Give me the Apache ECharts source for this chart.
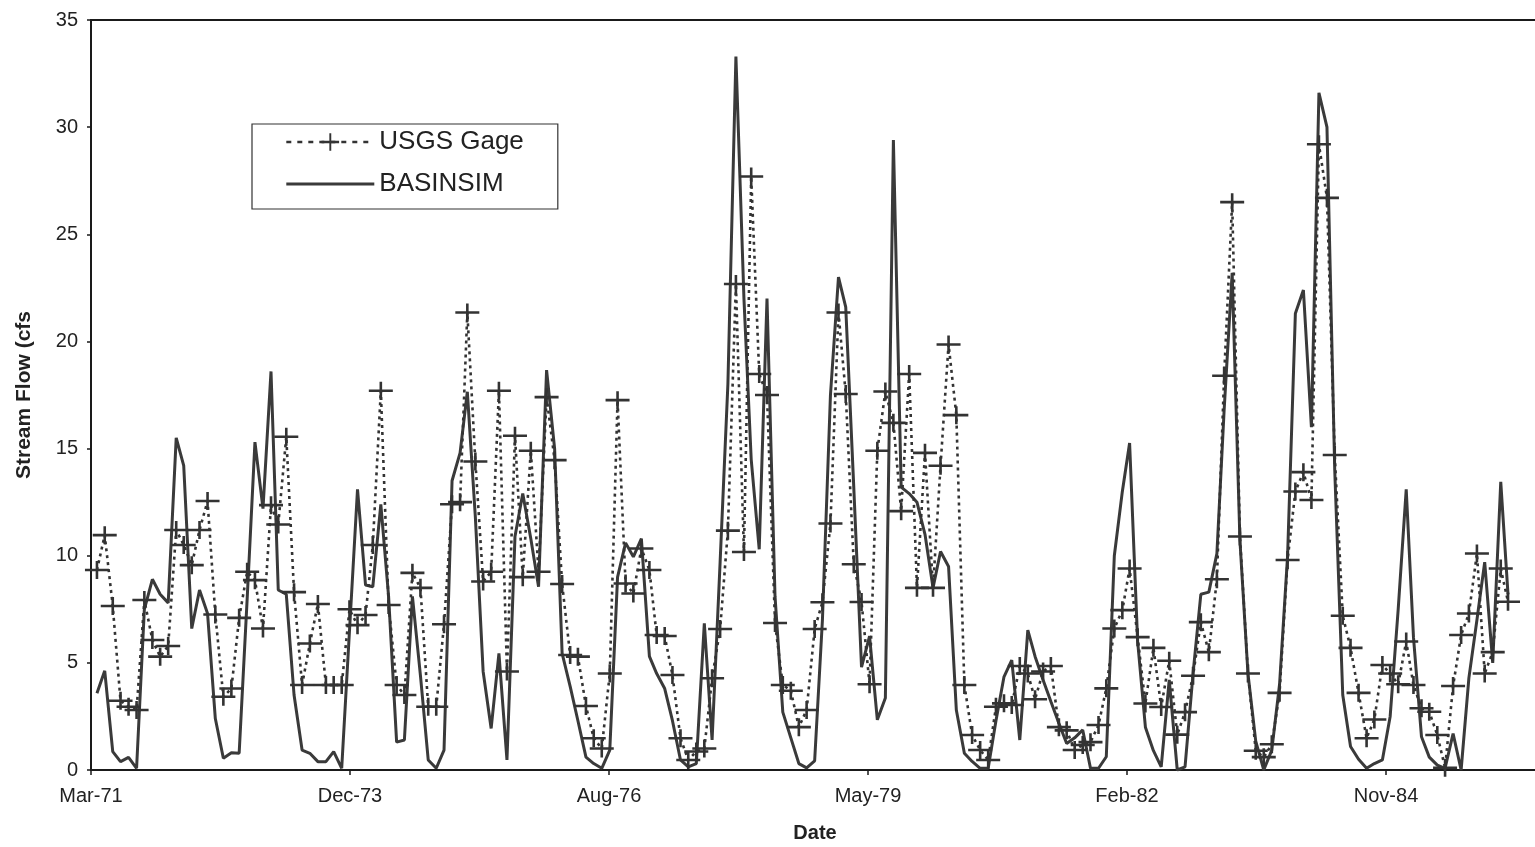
<!DOCTYPE html>
<html><head><meta charset="utf-8">
<script src="https://cdn.jsdelivr.net/npm/echarts@6/dist/echarts.min.js"></script>
<style>html,body{margin:0;padding:0;background:#fff}#c{width:1535px;height:847px}</style>
</head><body><div id="c"></div>
<script>
// Monthly stream flow (cfs), month-end values starting March 1971
const startYear = 1971;
const startMonth = 3;
const tickLabels = ['Mar-71', 'Dec-73', 'Aug-76', 'May-79', 'Feb-82', 'Nov-84'];
const axisStartSerial = 26000;   // Excel-style day serial of the first tick
const tickIntervalDays = 1000;
const axisEndSerial = 31637;

const usgsGage = [
  9.33, 10.96, 7.65, 3.23, 2.95, 2.8, 7.93, 6.07, 5.29, 5.79,
  11.2, 10.5, 9.56, 11.2, 12.55, 7.26, 3.42, 3.8, 7.1, 9.25,
  8.86, 6.6, 12.36, 11.46, 15.55, 8.3, 3.97, 5.9, 7.75, 3.97,
  3.97, 3.97, 7.5, 6.76, 7.23, 10.5, 17.7, 7.7, 3.97, 3.5,
  9.2, 8.5, 2.95, 2.95, 6.8, 12.4, 12.5, 21.35, 14.4, 8.8,
  9.25, 17.7, 4.6, 15.6, 9.0, 14.9, 9.25, 17.4, 14.46, 8.68,
  5.37, 5.29, 2.99, 1.48, 1.0, 4.5, 17.26, 8.7, 8.24, 10.34,
  9.33, 6.3, 6.25, 4.43, 1.48, 0.47, 0.86, 1.0, 4.28, 6.58,
  11.17, 22.68, 10.17, 27.7, 18.48, 17.5, 6.86, 3.97, 3.7, 2.0,
  2.8, 6.58, 7.83, 11.5, 21.35, 17.55, 9.6, 7.84, 4.0, 14.9,
  17.66, 16.2, 12.08, 18.48, 8.5, 14.8, 8.5, 14.2, 19.86, 16.56,
  3.97, 1.63, 0.93, 0.47, 2.95, 3.11, 3.03, 4.85, 4.5, 3.3,
  4.6, 4.85, 2.0, 1.85, 0.93, 1.17, 1.3, 2.1, 3.81, 6.6,
  7.46, 9.4, 6.2, 3.1, 5.7, 2.94, 5.1, 1.65, 2.7, 4.4,
  6.9, 5.5, 8.9, 18.4, 26.5, 10.9, 4.5, 0.9, 0.6, 1.2,
  3.6, 9.8, 13.0, 13.9, 12.6, 29.2, 26.7, 14.7, 7.2, 5.7,
  3.6, 1.48, 2.36, 4.9, 4.5, 4.0, 6.0, 3.97, 2.88, 2.72,
  1.63, 0.1, 3.92, 6.3, 7.3, 10.1, 4.5, 5.5, 9.4, 7.85
];

const basinsim = [
  3.58, 4.63, 0.86, 0.39, 0.59, 0.08, 7.5, 8.9, 8.2, 7.8,
  15.5, 14.2, 6.6, 8.4, 7.3, 2.4, 0.55, 0.8, 0.78, 8.0,
  15.3, 12.2, 18.6, 8.4, 8.2, 3.5, 0.93, 0.78, 0.39, 0.39,
  0.86, 0.08, 6.5, 13.1, 8.63, 8.55, 12.4, 8.1, 1.3, 1.4,
  8.1, 4.4, 0.47, 0.08, 0.93, 13.5, 14.8, 17.65, 11.8, 4.6,
  1.94, 5.44, 0.47, 10.9, 12.9, 10.8, 8.55, 18.66, 15.0, 5.44,
  3.9, 2.3, 0.6, 0.3, 0.08, 0.93, 9.0, 10.6, 9.95, 10.8,
  5.3, 4.5, 3.8, 2.3, 0.47, 0.15, 0.3, 6.84, 1.4, 9.7,
  18.0, 33.3, 22.0, 14.5, 10.3, 22.0, 8.1, 2.7, 1.5, 0.3,
  0.1, 0.43, 7.0, 17.5, 23.0, 21.6, 13.2, 4.8, 6.25, 2.34,
  3.36, 29.4, 13.2, 12.9, 12.5, 11.0, 8.5, 10.2, 9.5, 2.8,
  0.78, 0.4, 0.08, 0.08, 2.3, 4.35, 5.13, 1.4, 6.53, 5.3,
  4.2, 3.2, 2.18, 1.24, 1.5, 1.87, 0.08, 0.08, 0.62, 10.0,
  13.0, 15.26, 6.0, 2.0, 0.9, 0.15, 4.2, 0.0, 0.15, 4.5,
  8.2, 8.3, 10.1, 16.8, 23.2, 10.7, 4.5, 1.35, 0.0, 0.93,
  4.0, 10.0, 21.3, 22.4, 16.0, 31.6, 30.0, 14.0, 3.5, 1.1,
  0.5, 0.08, 0.3, 0.47, 2.5, 7.5, 13.1, 6.2, 1.55, 0.6,
  0.23, 0.08, 1.7, 0.0, 4.3, 7.0, 9.7, 5.0, 13.45, 8.2
];

const EPOCH = Date.UTC(1899, 11, 30);
function monthEndSerial(i) {
  const ms = Date.UTC(startYear, startMonth - 1 + i + 1, 0);
  return Math.round((ms - EPOCH) / 86400000);
}
const usgsData = usgsGage.map((v, i) => [monthEndSerial(i), v]);
const basinData = basinsim.map((v, i) => [monthEndSerial(i), v]);

const plusPath = 'path://M0,77 H107 V0 H133 V77 H240 V103 H133 V180 H107 V103 H0 Z';
const barPath = 'path://M0,0 H880 V32 H0 Z';
const FONT = '"Liberation Sans", Arial, sans-serif';
const INK = '#222222';

const chart = echarts.init(document.getElementById('c'), null, {renderer: 'canvas'});
chart.setOption({
  animation: false,
  backgroundColor: '#ffffff',
  grid: {
    left: 91, top: 20, width: 1460, bottom: 77,
    outerBoundsMode: 'none',
    show: true, borderColor: '#1a1a1a', borderWidth: 2, containLabel: false
  },
  legend: {
    data: [
      {name: 'USGS Gage', lineStyle: {type: [5, 6], width: 2.6}},
      {name: 'BASINSIM', icon: barPath}
    ],
    orient: 'vertical',
    left: 252, top: 124,
    itemWidth: 88, itemHeight: 22, itemGap: 16,
    symbolKeepAspect: true,
    padding: [5, 34, 12, 33],
    borderColor: '#333', borderWidth: 1.2,
    backgroundColor: '#fff',
    textStyle: {fontFamily: FONT, fontSize: 26, color: INK}
  },
  xAxis: {
    type: 'value',
    min: axisStartSerial,
    max: axisEndSerial,
    interval: tickIntervalDays,
    name: 'Date',
    nameLocation: 'middle',
    nameGap: 53,
    nameTextStyle: {fontFamily: FONT, fontSize: 20, fontWeight: 'bold', color: INK, padding: [0, 12, 0, 0]},
    axisLine: {show: true, lineStyle: {color: '#1a1a1a', width: 2}},
    axisTick: {show: true, length: 5, lineStyle: {color: '#1a1a1a', width: 1.5}},
    splitLine: {show: false},
    axisLabel: {
      fontFamily: FONT, fontSize: 20, color: INK, margin: 16,
      formatter: function (v) {
        const k = (v - axisStartSerial) / tickIntervalDays;
        return Number.isInteger(k) && tickLabels[k] ? tickLabels[k] : '';
      }
    }
  },
  yAxis: {
    type: 'value',
    min: 0, max: 35, interval: 5,
    name: 'Stream Flow (cfs',
    nameLocation: 'middle',
    nameGap: 56,
    nameRotate: 90,
    nameTextStyle: {fontFamily: FONT, fontSize: 21, fontWeight: 'bold', color: INK},
    axisLine: {show: true, lineStyle: {color: '#1a1a1a', width: 2}},
    axisTick: {show: true, length: 4, lineStyle: {color: '#1a1a1a', width: 1.5}},
    splitLine: {show: false},
    axisLabel: {fontFamily: FONT, fontSize: 20, color: INK, margin: 13}
  },
  series: [
    {
      name: 'USGS Gage',
      type: 'line',
      data: usgsData,
      symbol: plusPath,
      symbolSize: [24, 18],
      showAllSymbol: true,
      lineStyle: {type: [3, 4], width: 2.6, color: '#333'},
      itemStyle: {color: '#333', borderWidth: 0},
      z: 3
    },
    {
      name: 'BASINSIM',
      type: 'line',
      data: basinData,
      symbol: 'none',
      lineStyle: {width: 3, color: '#3a3a3a'},
      itemStyle: {color: '#3a3a3a'},
      z: 2
    }
  ]
});
</script></body></html>
